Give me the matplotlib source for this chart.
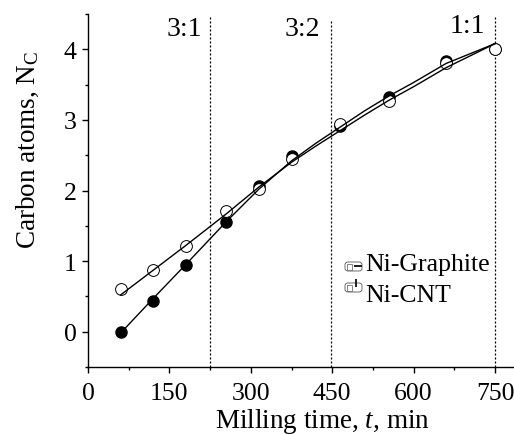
import matplotlib
matplotlib.use("Agg")
import matplotlib.pyplot as plt
from matplotlib.patches import FancyBboxPatch, Rectangle

plt.rcParams["font.family"] = "Liberation Serif"
plt.rcParams["mathtext.fontset"] = "custom"
plt.rcParams["mathtext.rm"] = "Liberation Serif"
plt.rcParams["mathtext.it"] = "Liberation Serif:italic"

# measured points
time_graphite = [60, 120, 180, 255, 315, 375, 465, 555, 660, 750]
nc_graphite = [0.0, 0.44, 0.94, 1.56, 2.06, 2.49, 2.91, 3.33, 3.84, 4.0]
time_cnt = [60, 120, 180, 255, 315, 375, 465, 555, 660, 750]
nc_cnt = [0.60, 0.87, 1.21, 1.71, 2.02, 2.45, 2.94, 3.27, 3.80, 4.0]

# fitted curves
fit_x = [60, 120, 180, 255, 315, 375, 420, 465, 510, 555, 600, 660, 705, 750]
fit_y_graphite = [-0.02, 0.47, 0.95, 1.56, 2.02, 2.42, 2.67, 2.90, 3.13, 3.34, 3.53, 3.80, 3.94, 4.08]
fit_y_cnt = [0.52, 0.87, 1.22, 1.67, 2.05, 2.40, 2.63, 2.85, 3.07, 3.28, 3.47, 3.74, 3.91, 4.08]

stoich_x = [225, 447, 750]
stoich_top = [4.47, 4.43, 4.46]
stoich_labels = ["3:1", "3:2", "1:1"]

xticks = [0, 150, 300, 450, 600, 750]
yticks = [0, 1, 2, 3, 4]

W, H = 514, 435
FS = 18.5

fig = plt.figure(figsize=(5.14, 4.35), dpi=100)
ax = fig.add_axes([88 / W, 1 - 368 / H, (514 - 88) / W, (368 - 15) / H])

ax.plot(time_graphite, nc_graphite, "o", mfc="black", mec="black", ms=8, zorder=2)
ax.plot(time_cnt, nc_cnt, "o", mfc="white", mec="black", mew=0.7, ms=8.5, zorder=2.5)
ax.plot(fit_x, fit_y_graphite, color="black", lw=1.0, zorder=3)
ax.plot(fit_x, fit_y_cnt, color="black", lw=1.0, zorder=3)

for x, top in zip(stoich_x, stoich_top):
    ax.plot([x, x], [-0.5, top], color="black", lw=0.9, ls=(0, (1.6, 1.6)), zorder=1)

# pixel positions of the 3:1, 3:2, 1:1 labels
for label, px, py in zip(stoich_labels, [167, 285, 450], [36, 36, 33]):
    fig.text(px / W, 1 - py / H, label, fontsize=20, ha="left", va="baseline")

ax.set_xlim(0, 785)
ax.set_ylim(-0.5, 4.5)
ax.set_xticks(xticks)
ax.set_xticks([75, 225, 375, 525, 675], minor=True)
ax.set_yticks(yticks)
ax.set_yticks([-0.5, 0.5, 1.5, 2.5, 3.5, 4.5], minor=True)
ax.tick_params(which="major", direction="out", length=4.3, width=1.0, labelsize=FS, pad=4)
ax.tick_params(axis="x", which="major", pad=6.5)
ax.tick_params(which="minor", direction="out", length=2.4, width=1.0)
ax.spines["top"].set_visible(False)
ax.spines["right"].set_visible(False)
ax.spines["left"].set_linewidth(1.0)
ax.spines["bottom"].set_linewidth(1.0)

fig.text(322 / W, 1 - 428 / H, r"Milling time, $\mathit{t}$, min", fontsize=19.5,
         ha="center", va="baseline")
fig.text(35 / W, 1 - 150 / H, r"Carbon atoms, N$_{\mathrm{C}}$", fontsize=19.5,
         rotation=90, ha="center", va="baseline", rotation_mode="anchor")

# legend: text plus the small mailbox symbols of the original
fig.text(365 / W, 1 - 271 / H, "Ni-Graphite", fontsize=FS, ha="left", va="baseline")
fig.text(365 / W, 1 - 302 / H, "Ni-CNT", fontsize=FS, ha="left", va="baseline")
for px, py, raised in [(345, 262, False), (345, 283, True)]:
    fig.add_artist(FancyBboxPatch((px / W, 1 - (py + 10) / H), 17 / W, 9 / H,
                                  boxstyle="round,pad=0,rounding_size=0.006",
                                  fc="white", ec="#555555", lw=0.6))
    fig.add_artist(Rectangle(((px + 2) / W, 1 - (py + 9) / H), 5 / W, 6 / H,
                             fc="white", ec="#555555", lw=0.5))
    if raised:
        fig.add_artist(Rectangle(((px + 10) / W, 1 - (py + 5) / H), 2 / W, 8 / H, fc="#222222", ec="none"))
    else:
        fig.add_artist(Rectangle(((px + 9) / W, 1 - (py + 6) / H), 8 / W, 2 / H, fc="#222222", ec="none"))

fig.savefig("out.png", dpi=100)
